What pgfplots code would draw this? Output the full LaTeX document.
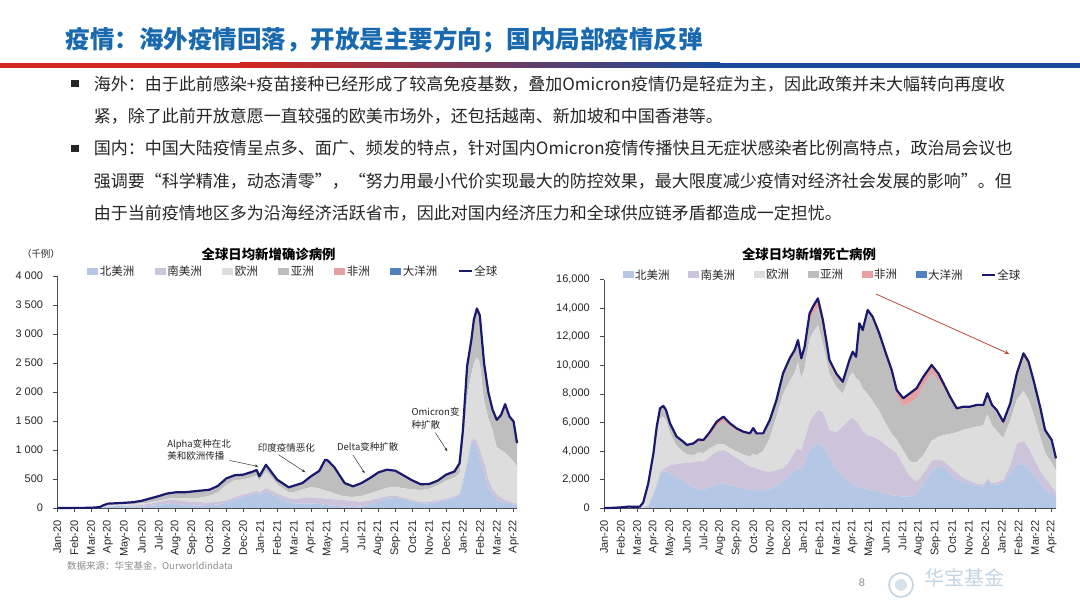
\documentclass[border=0pt]{standalone}
\usepackage{pgfplots}
\pgfplotsset{compat=1.18}
\usepackage{pgfplotstable}
\usepackage{fontspec}
\setmainfont{Liberation Sans}
\newfontfamily\cjk{Noto Sans CJK SC}
\usetikzlibrary{arrows.meta}

\definecolor{cNA}{RGB}{180,200,230}
\definecolor{cSA}{RGB}{205,196,220}
\definecolor{cEU}{RGB}{221,221,221}
\definecolor{cAS}{RGB}{190,190,190}
\definecolor{cAF}{RGB}{230,160,160}
\definecolor{cOC}{RGB}{80,130,190}
\definecolor{cG}{RGB}{25,25,110}
\definecolor{titleblue}{RGB}{25,105,175}
\definecolor{txt}{RGB}{38,38,38}
\definecolor{barred}{RGB}{210,40,30}
\definecolor{barblue}{RGB}{25,75,155}
\definecolor{arrowred}{RGB}{190,75,65}
\definecolor{logoc}{RGB}{195,212,226}

\pgfplotsset{
  arealeg/.style={legend image code/.code={\fill[##1] (0pt,-3.5pt) rectangle (11pt,3.5pt);}},
  lineleg/.style={legend image code/.code={\draw[##1] (0pt,0pt) -- (13pt,0pt);}},
  chartbase/.style={
    scale only axis,
    axis x line*=bottom, axis y line*=left,
    tick align=outside, major tick length=4pt,
    axis line style={black!70, line width=0.6pt},
    tick style={black!70, line width=0.6pt},
    xtick={0,...,27},
    xticklabels={Jan-20,Feb-20,Mar-20,Apr-20,May-20,Jun-20,Jul-20,Aug-20,Sep-20,Oct-20,Nov-20,Dec-20,Jan-21,Feb-21,Mar-21,Apr-21,May-21,Jun-21,Jul-21,Aug-21,Sep-21,Oct-21,Nov-21,Dec-21,Jan-22,Feb-22,Mar-22,Apr-22},
    ticklabel style={font=\fontsize{11}{12}\selectfont, text=black!85},
    xticklabel style={rotate=90, anchor=east, inner sep=0pt},
    yticklabel style={inner sep=0pt},
    xticklabel shift=8pt, yticklabel shift=10pt,
    scaled y ticks=false,
    /pgf/number format/assume math mode=true,
    stack plots=y,
    legend columns=-1,
  },
  overlay/.style={scale only axis, hide axis, clip=false},
}

% columns: month index (0 = Jan 2020), North America, South America, Europe, Asia, Africa, Oceania, global (thousands)
\pgfplotstableread{
m na sa eu as af oc g
0 0 0 0 0 0 0 0
0.5 0 0 0 1 0 0 1
1 0 0 0 2 0 0 2
1.5 0 0 0 2 0 0 2
2 0 0 1 3 0 0 4
2.5 2 0 8 5 0 0 15
2.75 10 1 29 10 0 0 50
3 25 2 35 12 1 0 75
3.5 32 4 34 11 1 0 82
4 30 10 28 20 2 0 90
4.5 28 17 25 27 3 0 100
5 25 30 25 40 5 0 125
5.5 35 40 20 62 8 0 165
6 55 50 20 68 12 0 205
6.5 75 60 25 75 15 0 250
7 70 70 30 88 12 0 270
7.5 55 65 45 97 8 0 270
8 45 60 60 114 6 0 285
8.5 45 55 80 115 5 0 300
9 50 45 115 100 5 0 315
9.5 60 45 165 104 6 0 380
10 90 40 270 102 8 0 510
10.5 150 40 290 75 10 0 565
11 190 40 260 75 10 0 575
11.5 230 40 260 78 12 0 620
11.8 250 45 265 80 15 0 655
11.95 220 45 200 65 15 0 545
12.35 290 55 295 80 25 0 745
13 190 60 160 65 15 0 490
13.7 100 70 100 78 8 0 356
14 80 80 115 104 6 0 385
14.5 75 95 150 104 6 0 430
15 80 105 175 177 8 0 545
15.5 70 105 165 292 8 0 640
15.85 55 105 140 524 8 0 832
16 50 110 130 522 8 0 820
16.4 40 110 100 442 8 0 700
17 25 110 65 220 10 0 430
17.5 20 100 70 165 18 0 373
18 25 85 100 198 22 0 430
18.5 60 70 120 244 22 0 516
19 110 55 135 296 18 0 614
19.5 160 45 145 295 15 0 660
20 175 35 150 271 12 0 643
20.5 150 30 160 212 8 0 560
21 110 25 185 150 6 0 476
21.5 80 25 205 95 5 0 410
22 80 25 225 79 4 0 413
22.5 105 25 260 75 5 0 470
23 130 30 310 89 15 0 574
23.5 170 30 330 60 35 5 630
23.8 220 30 350 125 35 10 770
24 420 50 590 245 30 10 1345
24.25 750 50 1100 515 25 10 2450
24.5 1100 50 1150 570 20 10 2900
24.65 1150 45 1305 725 15 10 3250
24.83 1050 100 1450 818 12 10 3440
25 850 150 1500 800 10 10 3320
25.25 600 200 1050 634 8 8 2500
25.5 350 150 1050 434 8 8 2000
25.75 220 110 1020 336 6 8 1700
26 150 90 810 455 5 10 1520
26.25 110 70 820 586 4 10 1600
26.5 90 50 810 826 4 10 1790
26.75 75 35 770 686 4 10 1580
27 60 30 710 676 4 10 1490
27.2 50 30 640 389 3 8 1120
}\leftdata

% deaths per day
\pgfplotstableread{
m na sa eu as af oc g
0 0 0 0 0 0 0 0
0.5 0 0 0 10 0 0 10
1 0 0 0 40 0 0 40
1.5 0 0 0 100 0 0 100
1.9 0 0 5 75 0 0 80
2.17 0 0 30 70 0 0 100
2.37 10 0 310 80 0 0 400
2.67 150 10 1340 230 0 0 1730
2.98 900 50 2550 320 10 0 3830
3.18 1600 100 3450 530 20 0 5700
3.38 2300 150 3850 655 30 0 6985
3.58 2550 200 3650 710 40 0 7150
3.74 2550 300 3300 680 40 0 6870
3.98 2400 600 2250 630 50 0 5930
4.38 2200 900 1250 600 50 0 5000
4.78 1900 1250 800 640 60 0 4650
5 1700 1500 550 595 70 0 4415
5.4 1450 1750 500 730 100 0 4530
5.7 1300 2000 600 750 150 0 4800
6 1250 2000 600 735 180 0 4765
6.4 1450 2150 600 900 250 0 5350
6.8 1650 2300 500 1300 300 0 6050
7.2 1750 2315 435 1600 300 0 6400
7.6 1600 2200 400 1500 230 0 5930
8 1500 2000 450 1460 170 0 5580
8.4 1350 1850 550 1480 120 0 5350
8.8 1250 1650 700 1530 100 0 5230
9 1250 1600 950 1700 100 0 5600
9.2 1200 1580 920 1430 100 0 5230
9.6 1200 1400 1400 1140 90 0 5230
10 1300 1245 2355 1170 100 0 6170
10.4 1550 1100 3750 1060 110 0 7570
10.8 1900 880 5220 1310 130 0 9440
11.2 2300 1000 5600 1390 200 0 10490
11.5 2600 1300 5600 1320 250 0 11070
11.7 2800 1400 6000 1270 300 0 11770
11.9 2600 1400 5100 1090 300 0 10490
12.1 3100 1700 5000 1150 350 0 11300
12.4 4000 2000 5800 1340 500 0 13640
12.6 4300 2100 5900 1260 550 0 14110
12.9 4500 2370 5930 1240 650 0 14690
13.2 4300 2400 4800 1120 550 0 13170
13.6 3500 1970 3930 620 350 0 10370
14 2700 2600 3200 690 250 0 9440
14.4 2200 3500 2300 670 180 0 8850
14.8 1800 4400 3000 1000 170 0 10370
15 1650 4650 3200 1280 170 0 10950
15.2 1550 4550 3000 1330 170 0 10600
15.4 1450 4350 3100 3870 170 0 12940
15.6 1400 4000 3000 3900 170 0 12470
15.9 1300 3800 2900 5680 200 0 13880
16.2 1200 3800 2500 5710 200 0 13410
16.6 1100 3665 2035 5190 250 0 12240
17 1000 3400 1500 4640 300 0 10840
17.35 900 3200 1100 4120 350 0 9670
17.65 850 2980 970 3070 400 0 8270
18.05 800 2200 1000 3140 550 0 7690
18.45 800 1400 1050 4090 700 0 8040
18.85 1000 845 1355 4490 700 0 8390
19.26 1600 800 1300 4850 650 0 9200
19.76 2600 700 1400 4720 600 0 10020
20.16 2900 500 1600 3990 450 0 9440
20.47 2850 450 1800 3340 300 0 8740
20.87 2400 500 2300 2400 200 0 7800
21.27 2000 450 2850 1535 150 0 6985
21.67 1800 300 3400 1480 120 0 7100
22.07 1700 200 3700 1400 100 0 7100
22.48 1550 150 4000 1420 100 0 7220
22.88 1500 150 4150 1320 100 0 7220
23.12 1900 150 4550 1340 100 0 8040
23.4 1600 150 4050 1270 150 0 7220
23.68 1650 150 3600 1270 200 0 6870
24.08 1700 260 2940 900 230 20 6050
24.5 2400 600 3100 960 250 20 7330
24.9 3000 1500 3100 1540 280 20 9440
25.3 3100 1600 3500 2320 300 20 10840
25.6 2800 1400 3400 2420 220 20 10260
25.9 2300 1200 3100 2180 170 20 8970
26.3 1700 900 2400 1980 100 20 7100
26.6 1300 800 1800 1480 70 20 5470
26.8 1100 700 1700 1545 50 20 5115
27 1000 500 1700 1505 40 20 4765
27.26 800 300 1500 830 30 20 3480
}\rightdata

\begin{document}
\begin{tikzpicture}[x=1pt,y=1pt]
\fill[white] (0,0) rectangle (1080,608);
\path[use as bounding box] (0,0) rectangle (1080,608);

% title and bar
\node[anchor=west, inner sep=0, text=titleblue, font=\cjk\bfseries\fontsize{24.5}{28}\selectfont] at (65.4,608-40) {疫情：海外疫情回落，开放是主要方向；国内局部疫情反弹};
\fill[barred] (0,608-68) rectangle (240,608-63);
\shade[left color=barred, right color=barblue] (240,608-68) rectangle (720,608-63);
\fill[barblue] (720,608-68) rectangle (1080,608-63);

% bullet text
\fill[black!85] (70.6,608-87.2) rectangle (78.5,608-79.6);
\fill[black!85] (70.6,608-152.3) rectangle (78.5,608-144.7);
\begin{scope}[every node/.style={anchor=west, inner sep=0, text=txt, font=\cjk\fontsize{17}{20}\selectfont}]
\node at (93.7,608-84) {海外：由于此前感染+疫苗接种已经形成了较高免疫基数，叠加Omicron疫情仍是轻症为主，因此政策并未大幅转向再度收};
\node at (93.7,608-116.5) {紧，除了此前开放意愿一直较强的欧美市场外，还包括越南、新加坡和中国香港等。};
\node at (93.7,608-148.5) {国内：中国大陆疫情呈点多、面广、频发的特点，针对国内Omicron疫情传播快且无症状感染者比例高特点，政治局会议也};
\node at (93.7,608-181) {强调要“科学精准，动态清零”，“努力用最小代价实现最大的防控效果，最大限度减少疫情对经济社会发展的影响”。但};
\node at (93.7,608-213) {由于当前疫情地区多为沿海经济活跃省市，因此对国内经济压力和全球供应链矛盾都造成一定担忧。};
\end{scope}

% chart titles
\node[font=\cjk\bfseries\fontsize{13.4}{15}\selectfont, text=black] at (268.6,608-254) {全球日均新增确诊病例};
\node[font=\cjk\bfseries\fontsize{13.4}{15}\selectfont, text=black] at (809,608-254) {全球日均新增死亡病例};
\node[font=\cjk\fontsize{9.5}{11}\selectfont, text=txt] at (41,608-254) {（千例）};

% ---------------- left chart ----------------
\begin{axis}[chartbase,
  at={(57.3pt,100pt)}, width=459.7pt, height=232pt,
  xmin=0, xmax=27.2, ymin=0, ymax=4000,
  ytick={0,500,...,4000},
  /pgf/number format/1000 sep={\hspace{3pt}},
  legend style={at={(0.513,1.02)}, anchor=center, draw=none, fill=none,
    font=\cjk\fontsize{11.5}{13}\selectfont, text=txt, nodes={inner sep=1.5pt},
    /tikz/every even column/.append style={column sep=19pt}},
]
\addplot[arealeg, fill=cNA, draw=none] table[x=m,y=na]{\leftdata} \closedcycle;
\addlegendentry{北美洲}
\addplot[arealeg, fill=cSA, draw=none] table[x=m,y=sa]{\leftdata} \closedcycle;
\addlegendentry{南美洲}
\addplot[arealeg, fill=cEU, draw=none] table[x=m,y=eu]{\leftdata} \closedcycle;
\addlegendentry{欧洲}
\addplot[arealeg, fill=cAS, draw=none] table[x=m,y=as]{\leftdata} \closedcycle;
\addlegendentry{亚洲}
\addplot[arealeg, fill=cAF, draw=none] table[x=m,y=af]{\leftdata} \closedcycle;
\addlegendentry{非洲}
\addplot[arealeg, fill=cOC, draw=none] table[x=m,y=oc]{\leftdata} \closedcycle;
\addlegendentry{大洋洲}
\addlegendimage{lineleg, cG, line width=1.8pt}
\addlegendentry{全球}
\end{axis}
\begin{axis}[overlay, at={(57.3pt,100pt)}, width=459.7pt, height=232pt,
  xmin=0, xmax=27.2, ymin=0, ymax=4000]
\addplot[cG, line width=2.2pt, line join=round] table[x=m,y=g]{\leftdata};
\begin{scope}[every node/.style={font=\cjk\fontsize{9.5}{12.5}\selectfont, text=txt, inner sep=0}]
\node[anchor=west, align=left] at (axis cs:6.5,1000) {Alpha变种在北\\美和欧洲传播};
\node at (axis cs:13.56,1030) {印度疫情恶化};
\node at (axis cs:18.37,1060) {Delta变种扩散};
\node[anchor=west, align=left] at (axis cs:20.95,1545) {Omicron变\\种扩散};
\end{scope}
\begin{scope}[-{Stealth[length=3.5pt,width=2.6pt]}, black!80, line width=0.5pt]
\draw (axis cs:10.2,820) -- (axis cs:11.9,715);
\draw (axis cs:13.09,919) -- (axis cs:14.68,616);
\draw (axis cs:17.48,919) -- (axis cs:18.19,599);
\draw (axis cs:22.37,1297) -- (axis cs:23.08,977);
\end{scope}
\end{axis}

% ---------------- right chart ----------------
\begin{axis}[chartbase,
  at={(604pt,100pt)}, width=452pt, height=228.3pt,
  xmin=0, xmax=27.26, ymin=0, ymax=16000,
  ytick={0,2000,...,16000},
  /pgf/number format/1000 sep={,},
  legend style={at={(0.483,1.021)}, anchor=center, draw=none, fill=none,
    font=\cjk\fontsize{11.5}{13}\selectfont, text=txt, nodes={inner sep=1.5pt},
    /tikz/every even column/.append style={column sep=17pt}},
]
\addplot[arealeg, fill=cNA, draw=none] table[x=m,y=na]{\rightdata} \closedcycle;
\addlegendentry{北美洲}
\addplot[arealeg, fill=cSA, draw=none] table[x=m,y=sa]{\rightdata} \closedcycle;
\addlegendentry{南美洲}
\addplot[arealeg, fill=cEU, draw=none] table[x=m,y=eu]{\rightdata} \closedcycle;
\addlegendentry{欧洲}
\addplot[arealeg, fill=cAS, draw=none] table[x=m,y=as]{\rightdata} \closedcycle;
\addlegendentry{亚洲}
\addplot[arealeg, fill=cAF, draw=none] table[x=m,y=af]{\rightdata} \closedcycle;
\addlegendentry{非洲}
\addplot[arealeg, fill=cOC, draw=none] table[x=m,y=oc]{\rightdata} \closedcycle;
\addlegendentry{大洋洲}
\addlegendimage{lineleg, cG, line width=1.8pt}
\addlegendentry{全球}
\end{axis}
\begin{axis}[overlay, at={(604pt,100pt)}, width=452pt, height=228.3pt,
  xmin=0, xmax=27.26, ymin=0, ymax=16000]
\addplot[cG, line width=2.2pt, line join=round] table[x=m,y=g]{\rightdata};
\draw[-{Stealth[length=5pt,width=4pt]}, arrowred, line width=0.8pt] (axis cs:16.4,15000) -- (axis cs:24.45,10790);
\end{axis}

% footer
\node[anchor=west, inner sep=0, font=\cjk\fontsize{9.5}{11}\selectfont, text=black!45] at (67,608-566) {数据来源：华宝基金，Ourworldindata};
\node[font=\fontsize{11}{12}\selectfont, text=black!45] at (862,608-583) {8};
\draw[logoc, line width=1.6pt] (901,608-585) circle (12);
\fill[logoc!70] (901,608-585) circle (6);
\node[font=\cjk\fontsize{20}{22}\selectfont, text=logoc] at (964,608-578) {华宝基金};
\end{tikzpicture}
\end{document}
